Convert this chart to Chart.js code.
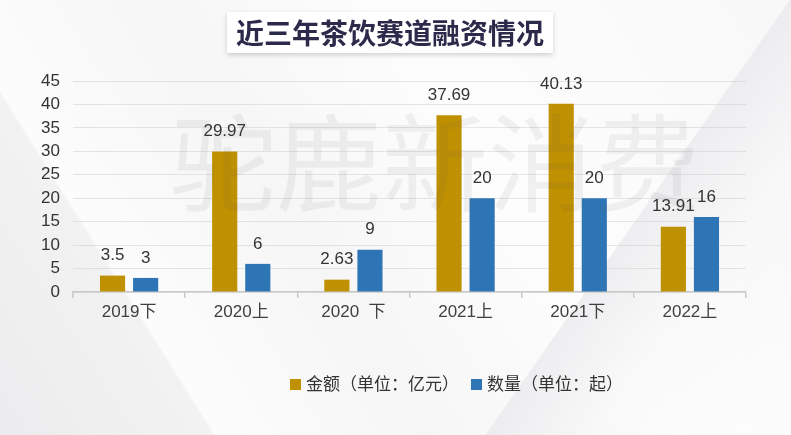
<!DOCTYPE html>
<html lang="zh">
<head>
    <meta charset="UTF-8">
    <title>近三年茶饮赛道融资情况</title>
    <script src="https://cdn.jsdelivr.net/npm/chart.js"></script>
    <style>
        html, body {
            margin: 0;
            padding: 0;
        }
        body {
            width: 791px;
            height: 435px;
            position: relative;
            overflow: hidden;
            font-family: "Liberation Sans", Arial, sans-serif;
            background:
                linear-gradient(125deg, rgba(255,255,255,0) 0%, rgba(255,255,255,0) 72%, rgba(232,232,235,0.7) 72.2%, rgba(244,244,246,0.4) 82%, rgba(255,255,255,0) 95%),
                linear-gradient(58deg, #ececee 0%, #f2f2f3 20%, #fcfcfc 20.3%, #f6f6f7 40%, #fdfdfd 62%, #f8f8f9 100%);
        }
        #chartBox {
            position: absolute;
            left: 0;
            top: 0;
            width: 791px;
            height: 435px;
        }
        #title {
            position: absolute;
            left: 227px;
            top: 12px;
            width: 326px;
            height: 41px;
            line-height: 41px;
            background: #fff;
            box-shadow: 0 2px 5px rgba(0,0,0,0.18);
            text-align: center;
            font-family: "Noto Sans CJK SC", sans-serif;
            font-weight: bold;
            font-size: 28px;
            color: #2b2a4a;
        }
        #watermark {
            position: absolute;
            left: 170px;
            top: 92px;
            font-family: "Noto Sans CJK SC", serif;
            font-size: 106px;
            line-height: 130px;
            color: rgba(90, 90, 90, 0.08);
            pointer-events: none;
        }
        #legend {
            position: absolute;
            left: 290px;
            top: 370px;
            font-family: "Noto Sans CJK SC", sans-serif;
            font-size: 17px;
            color: #333;
            white-space: nowrap;
        }
        #legend span.item {
            margin-right: 12px;
        }
        #legend i {
            display: inline-block;
            width: 11px;
            height: 11px;
            margin-right: 5px;
            vertical-align: 0px;
        }
    </style>
</head>
<body>
    <div id="chartBox"><canvas id="fundingChart" width="791" height="435"></canvas></div>
    <div id="title">近三年茶饮赛道融资情况</div>
    <div id="watermark">驼鹿新消费</div>
    <div id="legend"></div>

    <script>
        // data
        var periods = ['2019下', '2020上', '2020  下', '2021上', '2021下', '2022上'];
        var amountValues = [3.5, 29.97, 2.63, 37.69, 40.13, 13.91];   // 金额 (亿元)
        var countValues = [3, 6, 9, 20, 20, 16];                      // 数量 (起)
        var seriesNames = ['金额（单位：亿元）', '数量（单位：起）'];
        var seriesColors = ['#bf9000', '#2e75b6'];

        // value labels over each bar
        var barLabels = {
            id: 'barLabels',
            afterDatasetsDraw: function(chart) {
                var ctx = chart.ctx;
                ctx.save();
                ctx.font = '17px "Liberation Sans", Arial, sans-serif';
                ctx.fillStyle = '#333';
                ctx.textAlign = 'center';
                ctx.textBaseline = 'middle';
                chart.data.datasets.forEach(function(ds, i) {
                    chart.getDatasetMeta(i).data.forEach(function(bar, j) {
                        ctx.fillText(String(ds.data[j]), bar.x, bar.y - 20);
                    });
                });
                ctx.restore();
            }
        };

        var ctx = document.getElementById('fundingChart').getContext('2d');
        var myChart = new Chart(ctx, {
            type: 'bar',
            data: {
                labels: periods,
                datasets: [{
                    label: seriesNames[0],
                    data: amountValues,
                    backgroundColor: seriesColors[0]
                }, {
                    label: seriesNames[1],
                    data: countValues,
                    backgroundColor: seriesColors[1]
                }]
            },
            options: {
                responsive: false,
                animation: false,
                layout: {
                    padding: { top: 81, left: 0, right: 45, bottom: 113 }
                },
                datasets: {
                    bar: {
                        categoryPercentage: 0.59,
                        barPercentage: 0.76
                    }
                },
                plugins: {
                    legend: { display: false },
                    tooltip: { enabled: false }
                },
                scales: {
                    x: {
                        afterFit: function(scale) { scale.height = 30; },
                        grid: {
                            offset: true,
                            drawOnChartArea: false,
                            drawTicks: true,
                            tickLength: 6,
                            color: '#c9c9c9',
                            lineWidth: 1.5
                        },
                        border: { display: true, color: '#c9c9c9', width: 1.5 },
                        ticks: {
                            color: '#404040',
                            padding: 4,
                            maxRotation: 0,
                            font: { size: 17, family: '"Liberation Sans", Arial, "Noto Sans CJK SC", sans-serif' }
                        }
                    },
                    y: {
                        min: 0,
                        max: 45,
                        afterFit: function(scale) { scale.width = 73; },
                        grid: {
                            color: 'rgba(200,200,200,0.45)',
                            drawTicks: false
                        },
                        border: { display: false },
                        ticks: {
                            stepSize: 5,
                            padding: 13,
                            color: '#333',
                            font: { size: 17, family: '"Liberation Sans", Arial, sans-serif' }
                        }
                    }
                }
            },
            plugins: [barLabels]
        });

        // html legend built from the series arrays
        var legendHtml = '';
        for (var i = 0; i < seriesNames.length; i++) {
            legendHtml += '<span class="item"><i style="background:' + seriesColors[i] + '"></i>' + seriesNames[i] + '</span>';
        }
        document.getElementById('legend').innerHTML = legendHtml;
    </script>
</body>
</html>
